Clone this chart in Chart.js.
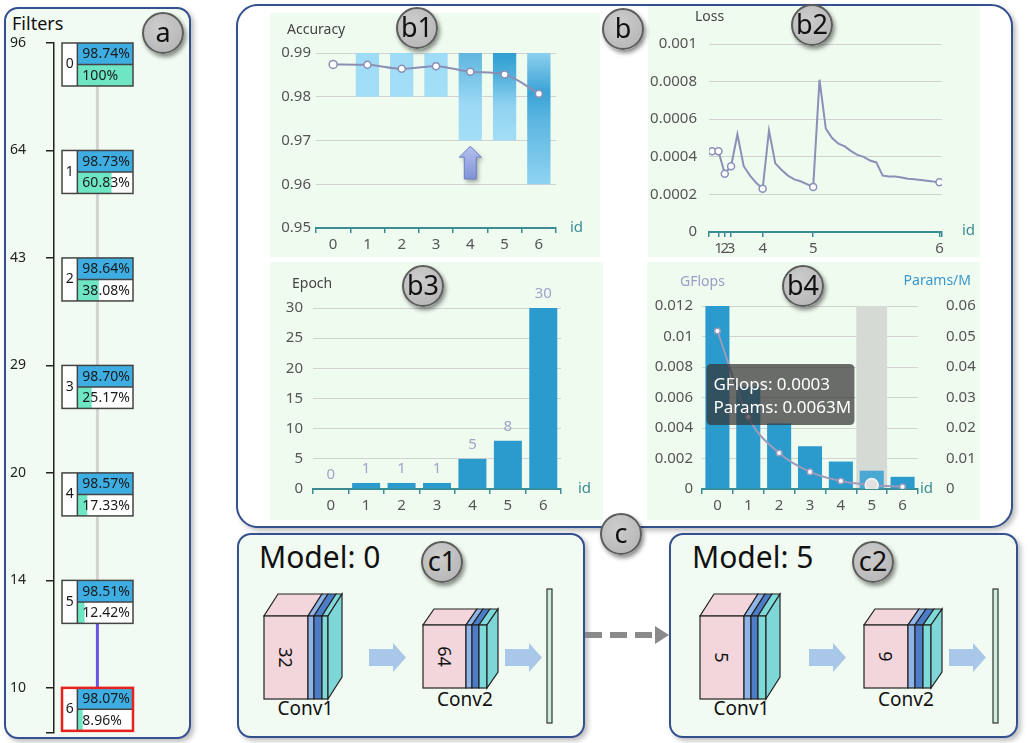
<!DOCTYPE html>
<html><head><meta charset="utf-8">
<script src="https://cdn.jsdelivr.net/npm/chart.js@4.4.1/dist/chart.umd.min.js"></script>
<style>
html,body{margin:0;padding:0}
body{width:1028px;height:743px;position:relative;background:#fff;font-family:'Noto Sans',sans-serif;overflow:hidden}
.panel{position:absolute;border:2px solid #34508f;box-sizing:border-box;box-shadow:3px 3px 5px rgba(0,0,0,0.25)}
.circ{position:absolute;width:42px;height:42px;margin:-21px 0 0 -21px;border-radius:50%;background:radial-gradient(circle at 40% 35%,#cdcdcd,#b2b2b2);border:2px solid #5c5c5c;box-sizing:border-box;box-shadow:2px 3px 4px rgba(0,0,0,0.45);font-size:27px;line-height:36px;text-align:center;color:#111;z-index:10}
canvas{position:absolute}
canvas.m{background:#f0fbf0}
svg{position:absolute}
</style></head><body>
<div class="panel" style="left:4px;top:7px;width:187px;height:732px;border-radius:14px;background:#f1fbf1"></div>
<div style="position:absolute;left:12px;top:11px;font-size:18px;line-height:24px;color:#111">Filters</div>
<canvas id="ca" width="180" height="712" style="left:4px;top:30px;width:180px;height:712px"></canvas>

<div class="panel" style="left:236px;top:4px;width:777px;height:524px;border-radius:22px;background:#fff"></div>
<canvas id="cb1" class="m" width="330" height="244" style="left:270px;top:13px;width:330px;height:244px"></canvas>
<canvas id="cb2" class="m" width="332" height="251" style="left:648px;top:6px;width:332px;height:251px"></canvas>
<canvas id="cb3" class="m" width="333" height="258" style="left:270px;top:262px;width:333px;height:258px"></canvas>
<canvas id="cb4" class="m" width="333" height="258" style="left:647px;top:262px;width:333px;height:258px"></canvas>

<div class="panel" style="left:237px;top:533px;width:348px;height:205px;border-radius:14px;background:#f1fbf1"></div>
<div class="panel" style="left:669px;top:533px;width:349px;height:205px;border-radius:14px;background:#f1fbf1"></div>
<svg id="sc1" width="348" height="205" style="left:237px;top:533px"></svg>
<svg id="sc2" width="349" height="205" style="left:669px;top:533px"></svg>
<svg id="dash" width="92" height="30" style="left:583px;top:620px">
  <line x1="2" y1="15" x2="74" y2="15" stroke="#8a8a8a" stroke-width="6" stroke-dasharray="17 8"/>
  <polygon points="72,6 86,15 72,24" fill="#8a8a8a"/>
</svg>
<div id="circles"></div>

<script>
// ---------------- data ----------------
const ids = ['0','1','2','3','4','5','6'];
const filterCounts = [96, 64, 43, 29, 20, 14, 10];
const filterRatio = [100, 60.83, 38.08, 25.17, 17.33, 12.42, 8.96];
const accuracy = [0.9874, 0.9873, 0.9864, 0.9870, 0.9857, 0.9851, 0.9807];
const accRangeLow = [null, 0.98, 0.98, 0.98, 0.97, 0.97, 0.96];
const accRangeHigh = [null, 0.99, 0.99, 0.99, 0.99, 0.99, 0.99];
const epochs = [0, 1, 1, 1, 5, 8, 30];
const lossEpoch = [0,1,2,3,4,5,6,7,8,9,10,11,12,13,14,15,16,17,18,19,20,21,22,23,24,25,26,27,28,29,30,31,32,33,34,35,36];
const lossValues = [0.00043,0.00043,0.00031,0.00035,0.00052,0.00035,0.00030,0.00026,0.00023,
  0.00054,0.000365,0.00033,0.00030,0.00028,0.00027,0.000255,0.00024,
  0.00081,0.00055,0.00050,0.00047,0.000455,0.00043,0.00041,0.00040,0.00038,0.00037,
  0.00030,0.000295,0.000295,0.00029,0.000283,0.00028,0.000276,0.000272,0.000268,0.000265];
const idEpoch = [0, 1, 2, 3, 8, 16, 36];
const gflops = [0.012, 0.0067, 0.0043, 0.0028, 0.0018, 0.0012, 0.0008];
const paramsM = [0.0518, 0.0236, 0.0118, 0.0056, 0.0026, 0.0013, 0.0007];
const tooltipLines = ['GFlops: 0.0003', 'Params: 0.0063M'];
const selectedModel = 6, hoverIndex = 5, arrowIndex = 4;
const modelIds = [0, 5];
const conv1Filters = [32, 5];
const conv2Filters = [64, 9];

// ---------------- defaults ----------------
Chart.defaults.font.family = "'Noto Sans', sans-serif";
Chart.defaults.font.size = 15;
Chart.defaults.color = '#555';
Chart.defaults.animation = false;
Chart.defaults.responsive = false;
Chart.defaults.plugins.legend.display = false;
Chart.defaults.plugins.tooltip.enabled = false;
const TEAL = '#3b8d94', GRID = '#d2d2d2';
const fmt = v => String(+(+v).toFixed(6));

function catX(pad){
  return {type:'category', offset:true,
    grid:{offset:true, drawOnChartArea:false, drawTicks:true, tickLength:5, color:TEAL, lineWidth:1.5},
    border:{display:true, color:TEAL, width:2},
    ticks:{padding:pad, color:'#555'}};
}
function valY(min,max,step,pad,w,extra){
  return Object.assign({type:'linear', min, max,
    ticks:{stepSize:step, padding:pad, callback:fmt, color:'#555'},
    grid:{color:GRID, drawTicks:false}, border:{display:false},
    afterFit:s=>{s.width=w;}}, extra||{});
}
function textPlugin(items){
  return {id:'txt', afterDraw(chart){
    const c = chart.ctx, a = chart.chartArea;
    items.forEach(t=>{
      c.save();
      c.font = (t.size||14)+"px 'Noto Sans', sans-serif";
      c.fillStyle = t.color||'#444';
      c.textBaseline = 'middle';
      c.textAlign = t.align||'left';
      const x = (t.from==='right'? a.right : a.left) + t.dx;
      const y = (t.fromY==='bottom'? a.bottom : a.top) + t.dy;
      c.fillText(t.text, x, y);
      c.restore();
    });
  }};
}

// ---------------- panel a ----------------
const BOX = 0.4;
new Chart(document.getElementById('ca'), {
  type:'bar',
  data:{datasets:[
    {data: accuracy.map((v,i)=>({x:[0,100], y:i+BOX/4})), backgroundColor:'#3eade2', barThickness:21, grouped:false},
    {data: filterRatio.map((p,i)=>({x:[0,p], y:i+3*BOX/4})), backgroundColor:'#6ee6c3', barThickness:21, grouped:false}
  ]},
  options:{
    indexAxis:'y',
    layout:{padding:{left:6, top:13, right:51, bottom:9}},
    scales:{
      x:{type:'linear', min:-42, max:100, display:false},
      y:{type:'linear', reverse:true, min:0, max:6.42, offset:false,
        afterBuildTicks:s=>{ s.ticks = filterCounts.map((_,i)=>({value:i})).concat([{value:6.42}]); },
        afterFit:s=>{s.width=44;},
        ticks:{padding:0, crossAlign:'far', color:'#222', font:{size:14}, callback:(v,i)=> filterCounts[i]!==undefined ? String(filterCounts[i]) : ''},
        grid:{offset:false, drawOnChartArea:false, drawTicks:true, tickLength:8, color:'#222', lineWidth:1.5},
        border:{display:true, color:'#222', width:1.5}}
    }
  },
  plugins:[{
    id:'boxes',
    beforeDatasetsDraw(chart){
      const {ctx, scales:{x,y}} = chart;
      const cx = x.getPixelForValue(36);
      for(let i=0;i<filterCounts.length-1;i++){
        ctx.beginPath();
        ctx.strokeStyle = (i===selectedModel-1) ? '#6a55e3' : '#d3d3d3';
        ctx.lineWidth = 3;
        ctx.moveTo(cx, y.getPixelForValue(i+BOX));
        ctx.lineTo(cx, y.getPixelForValue(i+1));
        ctx.stroke();
      }
      filterCounts.forEach((_,i)=>{
        const l = x.getPixelForValue(-27.6), r = x.getPixelForValue(100);
        const t = y.getPixelForValue(i), b = y.getPixelForValue(i+BOX);
        ctx.fillStyle = '#fff';
        ctx.fillRect(l, t, r-l, b-t);
      });
    },
    afterDatasetsDraw(chart){
      const {ctx, scales:{x,y}} = chart;
      filterCounts.forEach((_,i)=>{
        const l = x.getPixelForValue(-27.6), m = x.getPixelForValue(0), r = x.getPixelForValue(100);
        const t = y.getPixelForValue(i), b = y.getPixelForValue(i+BOX), h = y.getPixelForValue(i+BOX/2);
        ctx.save();
        ctx.strokeStyle = '#444'; ctx.lineWidth = 1.5;
        ctx.beginPath(); ctx.moveTo(m,t); ctx.lineTo(m,b); ctx.moveTo(m,h); ctx.lineTo(r,h); ctx.stroke();
        if(i===selectedModel){ ctx.strokeStyle='#e8211c'; ctx.lineWidth=2.5; }
        ctx.strokeRect(l, t, r-l, b-t);
        ctx.fillStyle = '#1a1a1a';
        ctx.font = "14px 'Noto Sans', sans-serif";
        ctx.textBaseline = 'middle';
        ctx.textAlign = 'center';
        ctx.fillText(String(i), (l+m)/2, (t+b)/2);
        ctx.textAlign = 'left';
        ctx.fillText((accuracy[i]*100).toFixed(2)+'%', m+5, (t+h)/2+0.5);
        const p = filterRatio[i];
        ctx.fillText((p===100?'100':p.toFixed(2))+'%', m+5, (h+b)/2+0.5);
        ctx.restore();
      });
    }
  }]
});

// ---------------- b1 accuracy ----------------
const b1Shades = [null,
 [[0,'#9edcf6'],[1,'#a3def7']],
 [[0,'#9edcf6'],[1,'#a3def7']],
 [[0,'#9edcf6'],[1,'#a3def7']],
 [[0,'#5fb6df'],[0.3,'#7dc7ea'],[0.6,'#9cd9f4'],[1,'#a3def6']],
 [[0,'#2f9ed0'],[0.25,'#4fb0db'],[0.6,'#90d2f0'],[1,'#a3def6']],
 [[0,'#8ccfee'],[0.3,'#3aa3d6'],[0.5,'#5ab5e0'],[1,'#8fd3f1']]];
new Chart(document.getElementById('cb1'), {
  type:'bar',
  data:{labels:ids, datasets:[
    {type:'line', data:accuracy, borderColor:'#8c8fb4', borderWidth:2, cubicInterpolationMode:'monotone',
      pointRadius:c=>c.dataIndex===0?4:3.5, pointBackgroundColor:'#fff', pointBorderColor:'#8c8fb4', pointBorderWidth:1.5, order:0},
    {type:'bar', data:accRangeLow.map((lo,i)=> lo===null ? null : [lo, accRangeHigh[i]]),
      categoryPercentage:1, barPercentage:0.68, order:1,
      backgroundColor:c=>{
        const s = b1Shades[c.dataIndex], ca = c.chart.chartArea;
        if(!s || !ca) return '#9edcf6';
        const y = c.chart.scales.y;
        const g = c.chart.ctx.createLinearGradient(0, y.getPixelForValue(accRangeHigh[c.dataIndex]), 0, y.getPixelForValue(accRangeLow[c.dataIndex]));
        s.forEach(([o,col])=>g.addColorStop(o,col));
        return g;
      }}
  ]},
  options:{
    layout:{padding:{left:0, top:40, right:44, bottom:0}},
    scales:{
      x:Object.assign(catX(3), {afterFit:s=>{s.height=29;}}),
      y:valY(0.95, 0.99, 0.01, 5, 46)
    }
  },
  plugins:[textPlugin([
    {text:'Accuracy', dx:-29, dy:-23, size:14},
    {text:'id', from:'right', fromY:'bottom', dx:14, dy:0, size:15, color:TEAL}
  ]), {
    id:'arrow',
    afterDatasetsDraw(chart){
      const {ctx, scales:{x,y}} = chart;
      const cx = x.getPixelForValue(arrowIndex);
      const tip = y.getPixelForValue(0.9687), base = y.getPixelForValue(0.9612), hb = tip + 11;
      ctx.save();
      ctx.shadowColor = 'rgba(0,0,0,0.35)'; ctx.shadowBlur = 4; ctx.shadowOffsetX = 2; ctx.shadowOffsetY = 3;
      const g = ctx.createLinearGradient(0, tip, 0, base);
      g.addColorStop(0, '#b4c0ee'); g.addColorStop(1, '#8193d6');
      ctx.fillStyle = g;
      ctx.beginPath();
      ctx.moveTo(cx, tip); ctx.lineTo(cx+11, hb); ctx.lineTo(cx+6, hb); ctx.lineTo(cx+6, base);
      ctx.lineTo(cx-6, base); ctx.lineTo(cx-6, hb); ctx.lineTo(cx-11, hb); ctx.closePath();
      ctx.fill();
      ctx.shadowColor = 'transparent';
      ctx.strokeStyle = '#6c7fc6'; ctx.lineWidth = 1; ctx.stroke();
      ctx.restore();
    }
  }]
});

// ---------------- b2 loss ----------------
new Chart(document.getElementById('cb2'), {
  type:'line',
  data:{datasets:[{
    data: lossEpoch.map((e,i)=>({x:e, y:lossValues[i]})),
    borderColor:'#8a90b8', borderWidth:2, tension:0,
    pointRadius:c=> idEpoch.includes(lossEpoch[c.dataIndex]) ? 3.5 : 0,
    pointBackgroundColor:'#fff', pointBorderColor:'#8a90b8', pointBorderWidth:1.5
  }]},
  options:{
    layout:{padding:{left:0, top:38, right:38, bottom:0}},
    scales:{
      x:{type:'linear', min:-0.5, max:36.4,
        afterBuildTicks:s=>{ s.ticks = [-0.5].concat(idEpoch.slice(1), [36.4]).map(v=>({value:v})); },
        afterFit:s=>{s.height=25;},
        ticks:{autoSkip:false, maxRotation:0, padding:3, color:'#555',
          callback:v=>{ const k = idEpoch.indexOf(v); return k>0 ? String(k) : ''; }},
        grid:{drawOnChartArea:false, drawTicks:true, tickLength:5, color:TEAL, lineWidth:1.5},
        border:{display:true, color:TEAL, width:2}},
      y:valY(0, 0.001, 0.0002, 12, 61)
    }
  },
  plugins:[textPlugin([
    {text:'Loss', dx:-14, dy:-27, size:14},
    {text:'id', from:'right', fromY:'bottom', dx:20, dy:-1, size:15, color:TEAL}
  ])]
});

// ---------------- b3 epoch ----------------
new Chart(document.getElementById('cb3'), {
  type:'bar',
  data:{labels:ids, datasets:[{data:epochs, backgroundColor:'#2b9acc', categoryPercentage:1, barPercentage:0.79}]},
  options:{
    layout:{padding:{left:0, top:46, right:42, bottom:0}},
    scales:{
      x:Object.assign(catX(2.5), {afterFit:s=>{s.height=31;}}),
      y:valY(0, 30, 5, 10, 43)
    }
  },
  plugins:[textPlugin([
    {text:'Epoch', dx:-21, dy:-24, size:14},
    {text:'id', from:'right', fromY:'bottom', dx:17, dy:0, size:15, color:TEAL}
  ]), {
    id:'vals',
    afterDatasetsDraw(chart){
      const ctx = chart.ctx;
      chart.getDatasetMeta(0).data.forEach((el,i)=>{
        ctx.save();
        ctx.font = "15px 'Noto Sans', sans-serif";
        ctx.fillStyle = '#a1a4c9'; ctx.textAlign = 'center'; ctx.textBaseline = 'middle';
        ctx.fillText(String(epochs[i]), el.x, el.y - 14);
        ctx.restore();
      });
    }
  }]
});

// ---------------- b4 gflops / params ----------------
new Chart(document.getElementById('cb4'), {
  type:'bar',
  data:{labels:ids, datasets:[
    {type:'line', data:paramsM, yAxisID:'y1', borderColor:'#9d9bbb', borderWidth:2, cubicInterpolationMode:'monotone',
      pointRadius:c=>c.dataIndex===hoverIndex?6.5:2.8,
      pointBackgroundColor:c=>c.dataIndex===hoverIndex?'#e2e2e2':'#fff',
      pointBorderColor:c=>c.dataIndex===hoverIndex?'#f4f4f4':'#9d9bbb', pointBorderWidth:1.5, order:0},
    {type:'bar', data:gflops, yAxisID:'y', categoryPercentage:1, barPercentage:0.78, order:1,
      backgroundColor:c=>c.dataIndex===hoverIndex?'#4aa8d2':'#2b9acc'}
  ]},
  options:{
    layout:{padding:{left:0, top:44, right:0, bottom:0}},
    scales:{
      x:Object.assign(catX(2.5), {afterFit:s=>{s.height=31;}}),
      y:valY(0, 0.012, 0.002, 9, 55),
      y1:{type:'linear', position:'right', min:0, max:0.06,
        ticks:{stepSize:0.01, padding:2, callback:fmt, color:'#555'},
        grid:{drawOnChartArea:false, drawTicks:true, tickLength:26, tickColor:'rgba(0,0,0,0)'}, border:{display:false},
        afterFit:s=>{s.width=62;}}
    }
  },
  plugins:[{
    id:'band',
    beforeDatasetsDraw(chart){
      const {ctx, chartArea:a, scales:{x}} = chart;
      const w = x.getPixelForValue(1) - x.getPixelForValue(0);
      const cx = x.getPixelForValue(hoverIndex);
      ctx.save(); ctx.fillStyle = '#d6dad4';
      ctx.fillRect(cx - w/2, a.top, w, a.bottom - a.top - 1);
      ctx.restore();
    },
    afterDraw(chart){
      const {ctx, scales:{x,y}} = chart;
      const l = x.getPixelForValue(0) - 11, t = y.getPixelForValue(0.0082), w = 148, h = 61, r = 5;
      ctx.save();
      ctx.fillStyle = 'rgba(52,52,52,0.72)';
      ctx.beginPath();
      ctx.moveTo(l+r,t); ctx.lineTo(l+w-r,t); ctx.quadraticCurveTo(l+w,t,l+w,t+r);
      ctx.lineTo(l+w,t+h-r); ctx.quadraticCurveTo(l+w,t+h,l+w-r,t+h);
      ctx.lineTo(l+r,t+h); ctx.quadraticCurveTo(l,t+h,l,t+h-r);
      ctx.lineTo(l,t+r); ctx.quadraticCurveTo(l,t,l+r,t); ctx.closePath(); ctx.fill();
      ctx.fillStyle = '#fff'; ctx.font = "17px 'Noto Sans', sans-serif"; ctx.textBaseline = 'alphabetic';
      ctx.fillText(tooltipLines[0], l+7, t+26);
      ctx.fillText(tooltipLines[1], l+7, t+49);
      ctx.restore();
    }
  }, textPlugin([
    {text:'GFlops', dx:-22, dy:-24, size:14, color:'#9a9dc4'},
    {text:'Params/M', from:'right', dx:53, dy:-25, size:14, color:'#3a98cc', align:'right'},
    {text:'id', from:'right', fromY:'bottom', dx:2, dy:0, size:15, color:TEAL}
  ])]
});

// ---------------- c panels (model diagrams) ----------------
const NS = 'http://www.w3.org/2000/svg';
function el(tag, attrs, parent, text){
  const e = document.createElementNS(NS, tag);
  for(const k in attrs) e.setAttribute(k, attrs[k]);
  if(text!=null) e.textContent = text;
  parent.appendChild(e); return e;
}
const sliceColors = ['#f3d6dc','#8fb5e8','#4e7dc8','#7edad8'];
function block(svg, x0, y0, h, widths, dx, dy, label){
  let x = x0;
  widths.forEach((w,k)=>{
    el('polygon',{points:`${x},${y0} ${x+w},${y0} ${x+w+dx},${y0+dy} ${x+dx},${y0+dy}`, fill:sliceColors[k], stroke:'#222','stroke-width':1.2}, svg);
    el('rect',{x, y:y0, width:w, height:h, fill:sliceColors[k], stroke:'#222','stroke-width':1.2}, svg);
    x += w;
  });
  el('polygon',{points:`${x},${y0} ${x+dx},${y0+dy} ${x+dx},${y0+dy+h} ${x},${y0+h}`, fill:'#7fd6d6', stroke:'#222','stroke-width':1.2}, svg);
  el('text',{transform:`translate(${x0+widths[0]/2},${y0+h/2}) rotate(90)`, 'text-anchor':'middle','dominant-baseline':'central','font-size':18, fill:'#111','font-family':"'Noto Sans', sans-serif"}, svg, label);
}
function arrow(svg, x){
  el('polygon',{points:`${x},116 ${x+24},116 ${x+24},110 ${x+37},124.5 ${x+24},139 ${x+24},133 ${x},133`, fill:'#a9c7e8'}, svg);
}
const cLayout = [
  {svg:'sc1', conv1:27, arrow1:132, conv2:186, arrow2:268, bar:310, model:22, w1:[44,6,8,6], w2:[43,6,7,8]},
  {svg:'sc2', conv1:31, arrow1:140, conv2:195, arrow2:280, bar:324, model:23, w1:[44,7,7,8], w2:[44,7,8,8]}
];
modelIds.forEach((mid, k)=>{
  const L = cLayout[k], svg = document.getElementById(L.svg);
  const F = "'Noto Sans', sans-serif";
  el('text',{x:L.model, y:35, 'font-size':30, fill:'#111','font-family':F}, svg, 'Model: ' + mid);
  block(svg, L.conv1, 83, 83, L.w1, 14, -22, String(conv1Filters[k]));
  el('text',{x:L.conv1+41.5, y:182, 'text-anchor':'middle','font-size':19, fill:'#111','font-family':F}, svg, 'Conv1');
  arrow(svg, L.arrow1);
  block(svg, L.conv2, 92, 63, L.w2, 11, -16, String(conv2Filters[k]));
  el('text',{x:L.conv2+42, y:173, 'text-anchor':'middle','font-size':19, fill:'#111','font-family':F}, svg, 'Conv2');
  arrow(svg, L.arrow2);
  el('rect',{x:L.bar, y:56, width:5, height:134, fill:'#cdeedd', stroke:'#333','stroke-width':1.2}, svg);
});

// ---------------- circle labels ----------------
const circleLabels = [['a',163,33],['b1',417,28],['b',623,29],['b2',812,25],['b3',423,286],['b4',803,286],['c',621,534],['c1',442,562],['c2',873,562]];
const holder = document.getElementById('circles');
circleLabels.forEach(([t,x,y])=>{
  const d = document.createElement('div');
  d.className = 'circ'; d.style.left = x+'px'; d.style.top = y+'px'; d.textContent = t;
  holder.appendChild(d);
});
</script>
</body></html>
